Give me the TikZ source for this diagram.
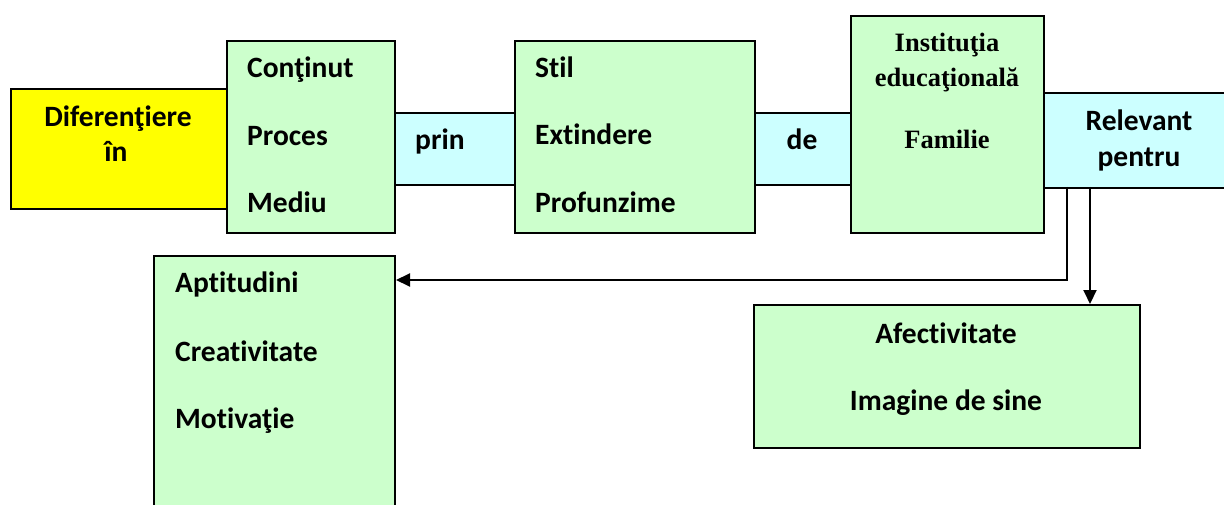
\documentclass[tikz,border=0pt]{standalone}
\usepackage{fontspec}
\setmainfont{Carlito}[Ligatures={NoCommon}]
\newfontfamily\timesf{Liberation Serif}
\usetikzlibrary{arrows.meta}
\definecolor{lgreen}{HTML}{CCFFCC}
\definecolor{lcyan}{HTML}{CCFFFF}
\definecolor{lyellow}{HTML}{FFFF00}
\tikzset{
  box/.style={draw=black, line width=2pt, anchor=north west, inner sep=0pt},
  gbox/.style={box, fill=lgreen},
  cbox/.style={box, fill=lcyan},
  ybox/.style={box, fill=lyellow},
  lbl/.style={font=\fontsize{29.5}{35}\selectfont\bfseries, inner sep=0pt},
  tlbl/.style={font=\fontsize{26.5}{31}\selectfont\timesf\bfseries, inner sep=0pt},
  conn/.style={draw=black, line width=2pt},
  arr/.style={conn, -{Triangle[length=14pt,width=13pt]}}
}
\begin{document}
\begin{tikzpicture}[x=1pt,y=-1pt]
\useasboundingbox (0,0) rectangle (1224,505);
% bands
\node[cbox, minimum width=121pt, minimum height=72pt] (prinb) at (394,112) {};
\node[cbox, minimum width=96pt, minimum height=72pt] (deb) at (754,112) {};
\node[cbox, minimum width=200pt, minimum height=95pt] (rel) at (1043,92) {};
% boxes
\node[ybox, minimum width=217pt, minimum height=120pt] (dif) at (10,88) {};
\node[gbox, minimum width=168pt, minimum height=192pt] (c1) at (226,40) {};
\node[gbox, minimum width=240pt, minimum height=192pt] (c2) at (514,40) {};
\node[gbox, minimum width=193pt, minimum height=217pt] (c3) at (850,15) {};
\node[gbox, minimum width=241pt, minimum height=270pt] (apt) at (153,255) {};
\node[gbox, minimum width=386pt, minimum height=143pt] (aff) at (753,304) {};
% texts
\node[lbl, anchor=base] (t1) at (118,127) {Diferenţiere};
\node[lbl, anchor=base] (t2) at (116,162) {în};
\node[lbl, anchor=base west] (t3) at (247,78) {Conţinut};
\node[lbl, anchor=base west] (t4) at (247,146) {Proces};
\node[lbl, anchor=base west] (t5) at (247,213) {Mediu};
\node[lbl, anchor=base west] (t6) at (415,150) {prin};
\node[lbl, anchor=base west] (t7) at (535,78) {Stil};
\node[lbl, anchor=base west] (t8) at (535,145) {Extindere};
\node[lbl, anchor=base west] (t9) at (535,213) {Profunzime};
\node[lbl, anchor=base] (t10) at (802,150) {de};
\node[tlbl, anchor=base] (t11) at (947,52) {Instituţia};
\node[tlbl, anchor=base] (t12) at (947,87) {educaţională};
\node[tlbl, anchor=base] (t13) at (947,149) {Familie};
\node[lbl, anchor=base] (t14) at (1139,131) {Relevant};
\node[lbl, anchor=base] (t15) at (1139,167) {pentru};
\node[lbl, anchor=base west] (t16) at (175,293) {Aptitudini};
\node[lbl, anchor=base west] (t17) at (175,361) {Creativitate};
\node[lbl, anchor=base west] (t18) at (175,428) {Motivaţie};
\node[lbl, anchor=base] (t19) at (946,343) {Afectivitate};
\node[lbl, anchor=base] (t20) at (946,410) {Imagine de sine};
% connectors
\coordinate (s1) at (1067,187);
\coordinate (s2) at (1090,187);
\draw[arr] (s1) |- ([yshift=-25pt]apt.north east);
\draw[arr] (s2) -- (s2 |- aff.north);
\end{tikzpicture}
\end{document}
